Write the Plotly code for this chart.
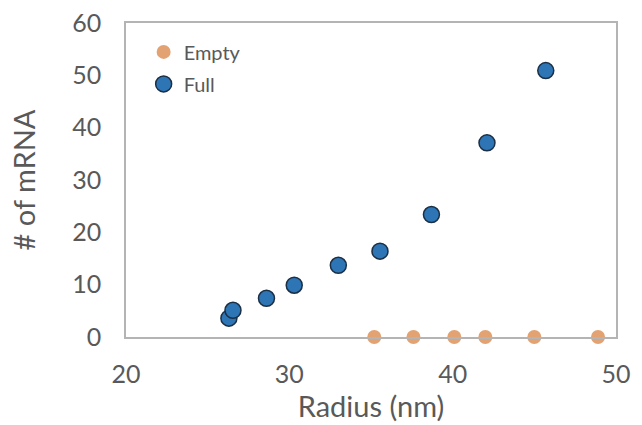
import plotly.graph_objects as go

empty_x = [35.2, 37.6, 40.1, 42.0, 45.0, 48.9]
empty_y = [0, 0, 0, 0, 0, 0]
full_x = [26.3, 26.55, 28.6, 30.3, 33.0, 35.55, 38.7, 42.1, 45.7]
full_y = [3.6, 5.1, 7.4, 9.9, 13.7, 16.4, 23.4, 37.1, 50.9]

fig = go.Figure()
fig.add_trace(go.Scatter(x=empty_x, y=empty_y, mode="markers", name="Empty", legendgroup="a",
                         marker=dict(size=14, color="#E3A272", line=dict(width=0)),
                         cliponaxis=False))
fig.add_trace(go.Scatter(x=full_x, y=full_y, mode="markers", name="Full", legendgroup="b",
                         marker=dict(size=16, color="#2E75B6", line=dict(width=1.5, color="#1B2F45")),
                         cliponaxis=False))

font_fam = "Lato, 'Open Sans', sans-serif"
fig.update_layout(
    width=642, height=425,
    margin=dict(l=126, r=26, t=23, b=88),
    paper_bgcolor="white", plot_bgcolor="white",
    font=dict(family=font_fam, color="#595959"),
    showlegend=True,
    legend=dict(x=0.036, y=0.970, xanchor="left", yanchor="top",
                font=dict(size=20, color="#595959"), bgcolor="rgba(0,0,0,0)",
                itemwidth=30, tracegroupgap=3),
    xaxis=dict(range=[20, 50], tickvals=[20, 30, 40, 50], showgrid=False, zeroline=False,
               showline=True, mirror=True, linecolor="#B4B4B4", linewidth=1.5,
               ticks="", tickfont=dict(size=25), ticklabelstandoff=14, automargin=False,
               title=dict(text="Radius (nm)", font=dict(size=29), standoff=6)),
    yaxis=dict(range=[0, 60], tickvals=[0, 10, 20, 30, 40, 50, 60], showgrid=False, zeroline=False,
               showline=True, mirror=True, linecolor="#B4B4B4", linewidth=1.5,
               ticks="", tickfont=dict(size=25), ticklabelstandoff=18, automargin=False,
               title=dict(text="# of mRNA", font=dict(size=29), standoff=28)),
)
fig.write_html("out.html")
